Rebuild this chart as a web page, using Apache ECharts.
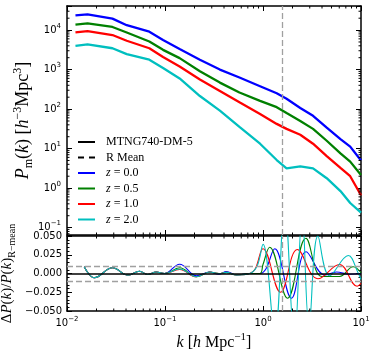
<!DOCTYPE html>
<html>
<head>
<meta charset="utf-8">
<script src="https://cdn.jsdelivr.net/npm/echarts@6/dist/echarts.min.js"></script>
<style>
  html, body { margin: 0; padding: 0; background: #fff; }
  #chart { width: 373px; height: 354px; }
</style>
</head>
<body>
<div id="chart"></div>
<script>
// top panel: P_m(k)
const kTop = [0.0122, 0.0162, 0.0291, 0.0407, 0.0692, 0.0955, 0.141, 0.227, 0.363, 0.575, 0.933, 1.38, 1.74, 2.40, 3.24, 4.47, 6.17, 7.76, 10];
const pZ00 = [23700, 25100, 19500, 13300, 9120, 5620, 3310, 1780, 1000, 631, 380, 251, 182, 107, 67.6, 33.9, 17.4, 11.2, 5.0];
const pZ05 = [13800, 14800, 12000, 8710, 5130, 3160, 1950, 912, 468, 263, 162, 112, 79.4, 50.1, 31.6, 15.8, 7.59, 4.68, 2.14];
const pZ10 = [8710, 9440, 7500, 5370, 3470, 2090, 1200, 562, 288, 148, 75, 42.2, 31.6, 22.4, 13.3, 6.46, 3.24, 2.0, 0.66];
const pZ20 = [3980, 4370, 3470, 2460, 1780, 1100, 596, 214, 91.2, 35.5, 13.3, 5.13, 3.16, 3.55, 3.16, 1.78, 0.84, 0.42, 0.24];

// bottom panel: relative difference to R mean
const kRatioZ00 = [0.0150, 0.0190, 0.0292, 0.0417, 0.0550, 0.0667, 0.0813, 0.0989, 0.141, 0.209, 0.285, 0.355, 0.423, 0.537, 0.731, 0.933, 1.07, 1.32, 1.95, 2.75, 4.27, 5.62, 7.59, 10];
const dZ00 = [0.009, -0.0057, 0.0076, -0.0022, 0.003, -0.0013, 0.002, 0.0, 0.0124, -0.003, 0.002, -0.001, 0.0025, -0.002, 0.0, 0.0, 0.006, 0.033, -0.033, 0.029, -0.002, 0.002, -0.001, 0.0];
const kRatioZ05 = [0.0150, 0.0190, 0.0292, 0.0417, 0.0550, 0.0667, 0.0813, 0.0989, 0.141, 0.209, 0.285, 0.355, 0.423, 0.537, 0.731, 0.933, 1.0, 1.17, 1.78, 2.74, 3.98, 6.03, 8.32, 10];
const dZ05 = [0.009, -0.0057, 0.0076, -0.0022, 0.003, -0.0013, 0.002, 0.0, 0.0076, -0.0044, 0.002, 0.0, 0.0015, -0.002, 0.0, 0.0, 0.012, 0.035, -0.033, 0.047, -0.004, -0.004, 0.009, 0.001];
const kRatioZ10 = [0.0150, 0.0190, 0.0292, 0.0417, 0.0550, 0.0667, 0.0813, 0.0989, 0.141, 0.209, 0.285, 0.355, 0.423, 0.537, 0.731, 0.832, 1.0, 1.51, 2.24, 3.63, 6.03, 9.12, 10];
const dZ10 = [0.009, -0.0057, 0.0076, -0.0022, 0.003, -0.0013, 0.002, 0.0, 0.0053, -0.0044, 0.002, 0.0, 0.0015, -0.002, 0.0, 0.006, 0.033, -0.025, 0.032, -0.007, 0.012, -0.017, -0.013];
const kRatioZ20 = [0.0150, 0.0190, 0.0292, 0.0417, 0.0550, 0.0667, 0.0813, 0.0989, 0.141, 0.209, 0.285, 0.355, 0.423, 0.537, 0.731, 0.871, 1.0, 1.32, 1.66, 2.09, 2.51, 2.95, 3.63, 4.79, 7.41, 9.33, 10];
const dZ20 = [0.009, -0.0057, 0.0076, -0.0022, 0.003, -0.0013, 0.002, 0.0, 0.006, -0.0044, 0.002, 0.0, 0.0015, -0.002, 0.0, 0.01, 0.039, -0.08, 0.09, -0.09, 0.08, -0.07, 0.05, -0.003, 0.024, 0.001, -0.008];

const kCut = 1.58;      // vertical dashed line
const dBand = 0.01;     // +-1 per cent band

const legendNames = ['MTNG740-DM-5', 'R Mean', 'z = 0.0', 'z = 0.5', 'z = 1.0', 'z = 2.0'];
const colors = ['#0000ff', '#008000', '#ff0000', '#00bfbf'];

const G0 = { left: 67, top: 6, width: 294, height: 229 };
const G1 = { left: 67, top: 236, width: 294, height: 75 };
const X_MIN = 0.01, X_MAX = 10;
const Y_MIN = 0.065, Y_MAX = 40700;

const serif = 'Liberation Serif';
const sans = 'DejaVu Sans';

function mathRich(size) {
  const sub = Math.round(size * 0.68);
  return {
    n: { fontFamily: serif, fontSize: size, lineHeight: size + 5, verticalAlign: 'middle', color: '#000' },
    i: { fontFamily: serif, fontStyle: 'italic', fontSize: size, lineHeight: size + 5, verticalAlign: 'middle', color: '#000' },
    sp: { fontFamily: serif, fontSize: sub, lineHeight: sub + 1, verticalAlign: 'top', color: '#000' },
    sb: { fontFamily: serif, fontSize: sub, lineHeight: sub + 1, verticalAlign: 'bottom', color: '#000' }
  };
}
const tickRich = {
  b: { fontFamily: sans, fontSize: 10, lineHeight: 15, verticalAlign: 'middle', color: '#000' },
  s: { fontFamily: sans, fontSize: 7, lineHeight: 8, verticalAlign: 'top', color: '#000' }
};

// 10^n labels, blank for the extent ticks
function powLabel(v) {
  const e = Math.log10(v);
  const r = Math.round(e);
  if (Math.abs(e - r) > 1e-6) return '';
  return '{b|10}{s|' + String(r).replace('-', '\u2212') + '}';
}

function baseAxis(extra) {
  return Object.assign({
    splitLine: { show: false },
    axisLine: { show: true, onZero: false, lineStyle: { color: '#000', width: 1.5 } },
    axisTick: { show: true, inside: true, length: 5, lineStyle: { color: '#000', width: 1 } },
    axisLabel: { show: false }
  }, extra);
}

const xAxes = [
  baseAxis({ type: 'log', gridIndex: 0, min: X_MIN, max: X_MAX }),
  baseAxis({
    type: 'log', gridIndex: 1, min: X_MIN, max: X_MAX,
    axisLabel: { show: true, formatter: powLabel, rich: tickRich, margin: 5 },
    name: '{i|k}{n| [}{i|h}{n| Mpc}{sp|\u22121}{n|]}',
    nameLocation: 'middle', nameGap: 21, nameMoveOverlap: false,
    nameTextStyle: { rich: mathRich(16) }
  }),
  baseAxis({ type: 'log', gridIndex: 0, position: 'top', min: X_MIN, max: X_MAX }),
  baseAxis({ type: 'log', gridIndex: 1, position: 'top', min: X_MIN, max: X_MAX })
];

const ratioTicks = {
  minorTick: { show: true, splitNumber: 5, length: 2.5, lineStyle: { color: '#000', width: 1 } },
  minorSplitLine: { show: false }
};

const yAxes = [
  baseAxis({
    type: 'log', gridIndex: 0, min: Y_MIN, max: Y_MAX,
    axisLabel: { show: true, formatter: powLabel, rich: tickRich, margin: 6 },
    name: '{i|P}{sb|m}{n|(}{i|k}{n|) [}{i|h}{sp|\u22123}{n|Mpc}{sp|3}{n|]}',
    nameLocation: 'middle', nameGap: 32, nameMoveOverlap: false,
    nameTextStyle: { rich: mathRich(18) }
  }),
  baseAxis(Object.assign({
    type: 'value', gridIndex: 1, min: -0.05, max: 0.05, interval: 0.025,
    axisLabel: {
      show: true, margin: 5, fontFamily: sans, fontSize: 10, color: '#000',
      formatter: v => v.toFixed(3).replace('-', '\u2212')
    },
    name: '{n|\u0394}{i|P}{n|(}{i|k}{n|)/}{i|P}{n|(}{i|k}{n|)}{sb|R\u2212mean}',
    nameLocation: 'middle', nameGap: 50, nameMoveOverlap: false,
    nameTextStyle: { rich: mathRich(15) }
  }, ratioTicks)),
  baseAxis({ type: 'log', gridIndex: 0, position: 'right', min: Y_MIN, max: Y_MAX }),
  baseAxis(Object.assign({
    type: 'value', gridIndex: 1, position: 'right', min: -0.05, max: 0.05, interval: 0.025
  }, ratioTicks))
];

const grayDash = { color: '#a0a0a0', type: [6, 3], width: 1.3 };

function zip(ks, vs) { return ks.map((k, i) => [k, vs[i]]); }

function topSeries(name, color, p) {
  return {
    name, type: 'line', xAxisIndex: 0, yAxisIndex: 0,
    data: zip(kTop, p), symbol: 'none', showSymbol: false,
    lineStyle: { color, width: 2.3 }, itemStyle: { color },
    animation: false
  };
}
function ratioSeries(name, color, ks, d) {
  return {
    name, type: 'line', xAxisIndex: 1, yAxisIndex: 1,
    data: zip(ks, d), symbol: 'none', showSymbol: false, smooth: 0.4,
    lineStyle: { color, width: 1.1 }, itemStyle: { color },
    animation: false
  };
}

const series = [
  { name: 'MTNG740-DM-5', type: 'line', xAxisIndex: 0, yAxisIndex: 0, data: [], symbol: 'none',
    lineStyle: { color: '#000', width: 2.3 }, itemStyle: { color: '#000' } },
  { name: 'R Mean', type: 'line', xAxisIndex: 0, yAxisIndex: 0, data: [], symbol: 'none',
    lineStyle: { color: '#000', width: 2.3, type: [5, 3] }, itemStyle: { color: '#000' } },
  topSeries('z = 0.0', colors[0], pZ00),
  topSeries('z = 0.5', colors[1], pZ05),
  topSeries('z = 1.0', colors[2], pZ10),
  topSeries('z = 2.0', colors[3], pZ20),
  ratioSeries('z = 0.0', colors[0], kRatioZ00, dZ00),
  ratioSeries('z = 0.5', colors[1], kRatioZ05, dZ05),
  ratioSeries('z = 1.0', colors[2], kRatioZ10, dZ10),
  ratioSeries('z = 2.0', colors[3], kRatioZ20, dZ20)
];

// reference lines
series[2].markLine = {
  silent: true, symbol: 'none', label: { show: false }, animation: false,
  lineStyle: grayDash, data: [{ xAxis: kCut }]
};
series[6].markLine = {
  silent: true, symbol: 'none', label: { show: false }, animation: false,
  lineStyle: grayDash,
  data: [
    { xAxis: kCut },
    { yAxis: dBand },
    { yAxis: -dBand },
    { yAxis: 0, lineStyle: { color: '#000', type: 'solid', width: 1.5 } }
  ]
};

// legend icons: plain bar, or two dashes for the R mean entry
const solidIcon = 'path://M0,0H17V2H0Z';
const dashIcon = 'path://M0,0H6V2H0Z M11,0H17V2H11Z';

const chart = echarts.init(document.getElementById('chart'));
chart.setOption({
  backgroundColor: '#fff',
  animation: false,
  grid: [
    Object.assign({ containLabel: false, outerBoundsMode: 'none' }, G0),
    Object.assign({ containLabel: false, outerBoundsMode: 'none' }, G1)
  ],
  legend: {
    data: legendNames.map(n => ({ name: n, icon: n === 'R Mean' ? dashIcon : solidIcon })),
    orient: 'vertical', left: 78, top: 135, padding: 0,
    itemWidth: 17, itemHeight: 3, itemGap: 1.5,
    textStyle: {
      fontFamily: serif, fontSize: 12, lineHeight: 14, color: '#000', padding: [0, 0, 0, 6],
      rich: {
        i: { fontFamily: serif, fontStyle: 'italic', fontSize: 12, color: '#000' },
        t: { fontFamily: serif, fontSize: 12, color: '#000' }
      }
    },
    formatter: name => name.charAt(0) === 'z' ? '{i|z}{t|' + name.slice(1) + '}' : name
  },
  xAxis: xAxes,
  yAxis: yAxes,
  series: series
});

// minor ticks of the log axes (2..9 per decade)
function drawMinorTicks() {
  const els = [];
  const line = (x1, y1, x2, y2) => els.push({
    type: 'line', silent: true, z: 10,
    shape: { x1, y1, x2, y2 }, style: { stroke: '#000', lineWidth: 1 }
  });
  const mult = [2, 3, 4, 5, 6, 7, 8, 9];
  [0.01, 0.1, 1].forEach(d => mult.forEach(m => {
    const x = chart.convertToPixel({ xAxisIndex: 0 }, m * d);
    [G0, G1].forEach(g => {
      const yb = g.top + g.height;
      line(x, yb, x, yb - 2.5);
      line(x, g.top, x, g.top + 2.5);
    });
  }));
  for (let e = -2; e <= 4; e++) {
    mult.forEach(m => {
      const v = m * Math.pow(10, e);
      if (v < Y_MIN || v > Y_MAX) return;
      const y = chart.convertToPixel({ yAxisIndex: 0 }, v);
      line(G0.left, y, G0.left + 2.5, y);
      line(G0.left + G0.width, y, G0.left + G0.width - 2.5, y);
    });
  }
  chart.setOption({ graphic: els });
}
drawMinorTicks();
</script>
</body>
</html>
